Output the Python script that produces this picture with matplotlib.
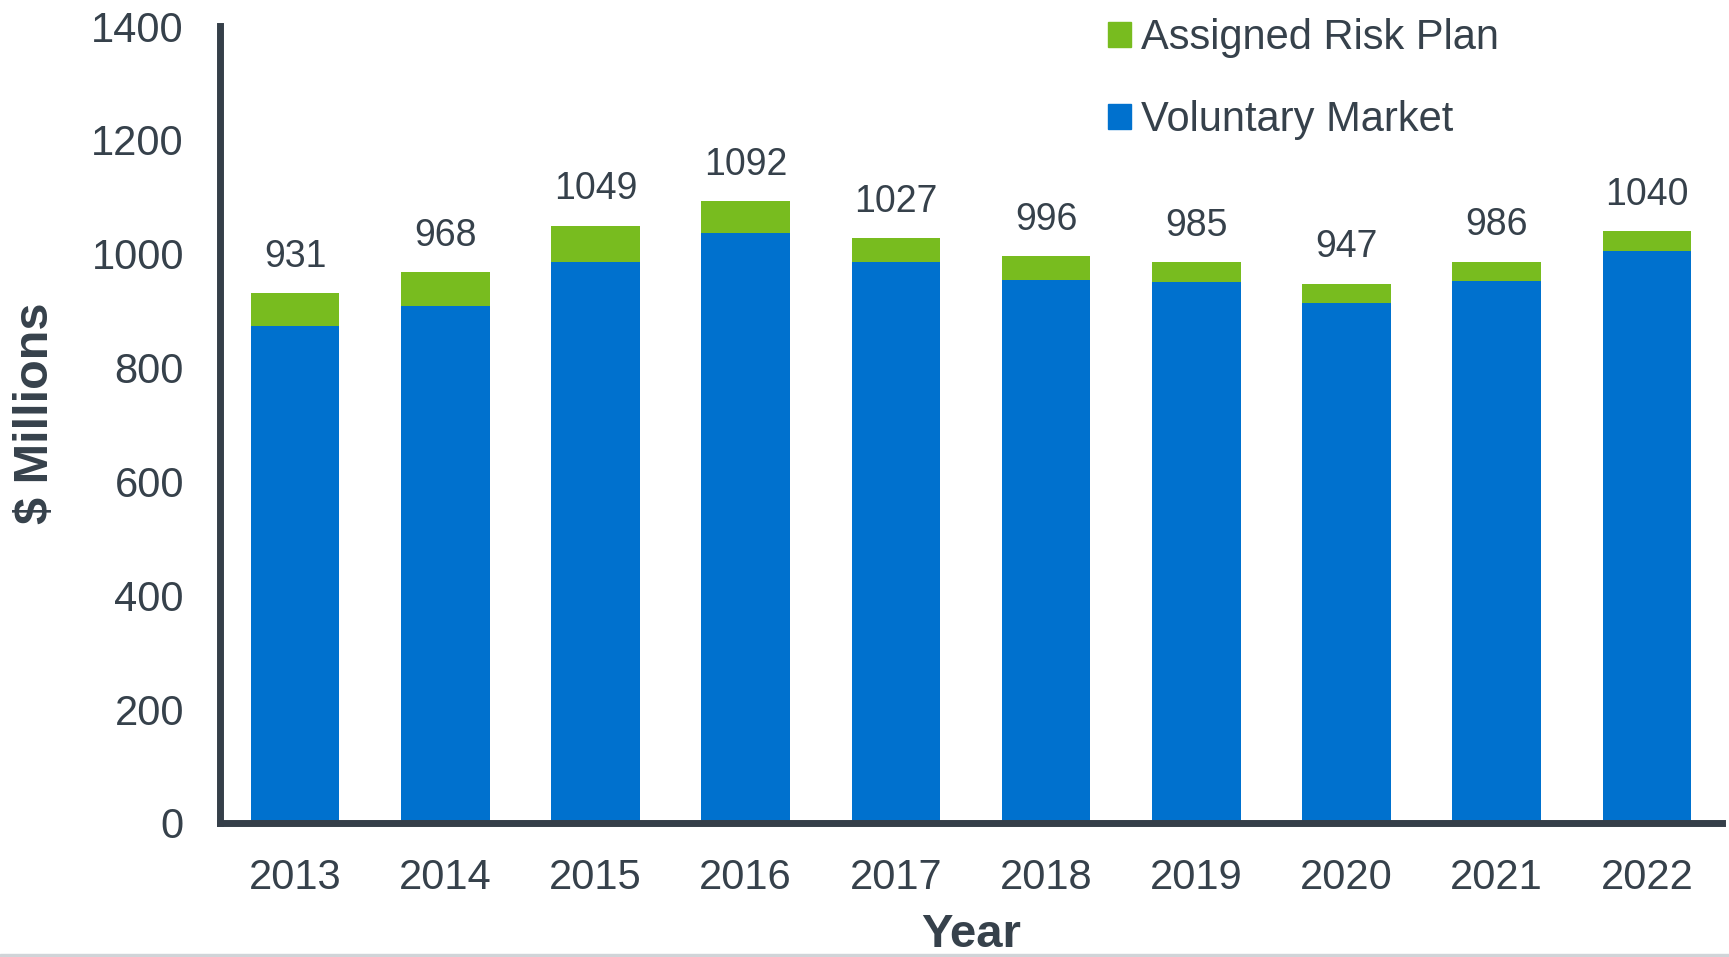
import matplotlib
matplotlib.use("Agg")
import matplotlib.pyplot as plt
from matplotlib.patches import Patch, Rectangle

plt.rcParams['font.family'] = ['Liberation Sans', 'DejaVu Sans']

years = ['2013', '2014', '2015', '2016', '2017', '2018', '2019', '2020', '2021', '2022']
totals = [931, 968, 1049, 1092, 1027, 996, 985, 947, 986, 1040]
assigned_risk = [58, 60, 63, 55, 42, 43, 35, 34, 34, 35]
voluntary = [t - a for t, a in zip(totals, assigned_risk)]

text_col = '#36414b'
blue = '#0071ce'
green = '#78bc1f'

fig = plt.figure(figsize=(17.29, 9.57), dpi=100)
ax = fig.add_axes([220 / 1729, 1 - 823 / 957, (1722 - 220) / 1729, (823 - 26) / 957])

x = range(len(years))
ax.bar(x, voluntary, width=0.59, color=blue, label='Voluntary Market')
ax.bar(x, assigned_risk, width=0.59, bottom=voluntary, color=green,
       label='Assigned Risk Plan')

for i, t in enumerate(totals):
    ax.annotate(str(t), (i, t), xytext=(0, 19), textcoords='offset points',
                ha='center', va='baseline', fontsize=27, color=text_col)

ax.set_xlim(-0.5, 9.5)
ax.set_ylim(0, 1400)
ax.set_yticks(range(0, 1401, 200))
ax.set_xticks(list(x))
ax.set_xticklabels(years)
ax.tick_params(length=0, labelsize=30, labelcolor=text_col)
ax.tick_params(axis='y', pad=26)
ax.tick_params(axis='x', pad=25)

for s in ['top', 'right']:
    ax.spines[s].set_visible(False)
for s in ['left', 'bottom']:
    ax.spines[s].set_linewidth(5)
    ax.spines[s].set_color('#353f49')

ax.set_xlabel('Year', fontsize=34, fontweight='bold', color=text_col, labelpad=11)
ax.set_ylabel('$ Millions', fontsize=35, fontweight='bold', color=text_col)
ax.yaxis.set_label_coords(-0.108, 0.514)

handles = [Patch(color=green, label='Assigned Risk Plan'),
           Patch(color=blue, label='Voluntary Market')]
fig.legend(handles=handles, loc='upper left', bbox_to_anchor=(1108 / 1729, 1 - 18 / 957),
           frameon=False, fontsize=30, labelcolor=text_col, handlelength=0.55,
           handleheight=0.55, handletextpad=0.25, labelspacing=1.02, borderpad=0,
           borderaxespad=0)

# grey strip along the bottom edge
fig.patches.append(Rectangle((0, 0), 1, 3.5 / 957, transform=fig.transFigure,
                             color='#d0d4d8', zorder=5))

fig.savefig('out.png', dpi=100)
